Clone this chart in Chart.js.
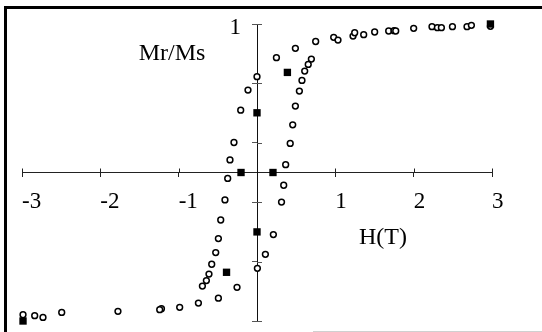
<!DOCTYPE html>
<html>
<head>
<meta charset="utf-8">
<script src="https://cdn.jsdelivr.net/npm/chart.js@4/dist/chart.umd.min.js"></script>
<style>
  html, body { margin: 0; padding: 0; background: #fff; }
  #wrap { width: 542px; height: 332px; position: relative; }
</style>
</head>
<body>
<div id="wrap"><canvas id="c" width="542" height="332"></canvas></div>
<script>
// Open circles: hysteresis loop M/Ms vs H (T)
const circleH = [0.248, 0.490, 0.749, 0.979, 1.034, 1.226, 1.247, 1.362, 1.502, 1.681, 1.749, 1.771, 2.000, 2.234, 2.303, 2.354, 2.495, 2.681, 2.737, 2.98,
  0.000, -0.115, -0.208, -0.294, -0.345, -0.374, -0.409, -0.463, -0.493, -0.527, -0.578, -0.613, -0.646, -0.697, -0.748, -0.987, -1.220, -1.242, -1.775, -2.493, -2.732, -2.838, -2.987,
  -0.493, -0.255, 0.005, 0.107, 0.209, 0.313, 0.341, 0.366, 0.424, 0.456, 0.490, 0.541, 0.574, 0.609, 0.654, 0.694];
const circleM = [0.773, 0.836, 0.882, 0.910, 0.892, 0.919, 0.941, 0.928, 0.946, 0.953, 0.955, 0.953, 0.971, 0.982, 0.975, 0.975, 0.982, 0.982, 0.991, 0.985,
  0.645, 0.555, 0.420, 0.202, 0.085, -0.040, -0.185, -0.320, -0.445, -0.539, -0.618, -0.684, -0.728, -0.765, -0.879, -0.908, -0.917, -0.924, -0.935, -0.942, -0.976, -0.964, -0.958,
  -0.846, -0.773, -0.645, -0.551, -0.418, -0.199, -0.086, 0.053, 0.196, 0.321, 0.447, 0.548, 0.620, 0.683, 0.728, 0.764];
// Filled squares: remanence Mr/Ms
const squareH = [2.98, 0.388, 0.0, -0.204, 0.204, 0.0, -0.389, -2.987];
const squareM = [1.0, 0.674, 0.402, 0.0, 0.0, -0.40, -0.672, -1.0];
// Tick labels
const xTickLabels = [-3, -2, -1, 1, 2, 3];
const yTickLabels = [1];
const yAxisText = 'Mr/Ms';
const xAxisText = 'H(T)';

const circlePts = circleH.map((h, i) => ({ x: h, y: circleM[i] }));
const squarePts = squareH.map((h, i) => ({ x: h, y: squareM[i] }));

const FONT = "'Liberation Serif', 'Times New Roman', serif";

const decor = {
  id: 'decor',
  beforeDraw(chart) {
    const ctx = chart.ctx;
    ctx.save();
    ctx.fillStyle = '#fff';
    ctx.fillRect(0, 0, chart.width, chart.height);
    ctx.fillStyle = '#000';
    ctx.fillRect(4, 6, 3, 332 - 6);
    ctx.fillRect(4, 6, 542 - 4, 3);
    ctx.fillStyle = '#d0d0d0';
    ctx.fillRect(313, 331, 542 - 313, 1);
    ctx.restore();
  },
  afterDraw(chart) {
    const ctx = chart.ctx;
    const xs = chart.scales.x, ys = chart.scales.y;
    const x0 = xs.getPixelForValue(0), y0 = ys.getPixelForValue(0);
    ctx.save();
    ctx.lineWidth = 1;
    // upper halves of x ticks
    ctx.strokeStyle = '#222';
    xs.ticks.forEach(t => {
      if (t.value === 0) return;
      const px = Math.round(xs.getPixelForValue(t.value)) + 0.5;
      ctx.beginPath(); ctx.moveTo(px, y0 - 4); ctx.lineTo(px, y0); ctx.stroke();
    });
    // right halves of y ticks
    ctx.strokeStyle = '#555';
    ys.ticks.forEach(t => {
      if (t.value === 0) return;
      const py = Math.round(ys.getPixelForValue(t.value)) + 0.5;
      ctx.beginPath(); ctx.moveTo(x0, py); ctx.lineTo(x0 + 5, py); ctx.stroke();
    });
    ctx.fillStyle = '#000';
    ctx.font = "24px " + FONT;
    ctx.textAlign = 'center';
    ctx.textBaseline = 'middle';
    ctx.fillText(yAxisText, 172, 54);
    ctx.fillText(xAxisText, 383, 238);
    ctx.restore();
  }
};

new Chart(document.getElementById('c'), {
  type: 'scatter',
  data: {
    datasets: [
      {
        label: 'M/Ms',
        data: circlePts,
        pointStyle: 'circle',
        radius: 2.9,
        borderWidth: 1.5,
        borderColor: '#000',
        backgroundColor: '#fff',
        order: 1,
        clip: false
      },
      {
        label: 'Mr/Ms',
        data: squarePts,
        pointStyle: 'rect',
        radius: 5.2,
        borderWidth: 0,
        borderColor: '#000',
        backgroundColor: '#000',
        order: 0,
        clip: false
      }
    ]
  },
  options: {
    responsive: false,
    animation: false,
    devicePixelRatio: 1,
    layout: { padding: { left: 22, right: 50, top: 24, bottom: 11 } },
    plugins: { legend: { display: false }, tooltip: { enabled: false } },
    elements: { point: { hoverRadius: 3 } },
    scales: {
      x: {
        type: 'linear',
        min: -3, max: 3,
        position: { y: 0 },
        afterFit(s) { s.paddingLeft = 0; s.paddingRight = 0; },
        border: { display: true, color: '#222', width: 1 },
        grid: { drawOnChartArea: false, drawTicks: true, tickLength: 4, color: '#222' },
        ticks: {
          stepSize: 1,
          align: 'start',
          padding: 12,
          color: '#000',
          font: { family: FONT, size: 23 },
          callback: v => xTickLabels.includes(v) ? String(v) : ''
        }
      },
      y: {
        type: 'linear',
        min: -1, max: 1,
        position: { x: 0 },
        afterFit(s) { s.paddingTop = 0; s.paddingBottom = 0; },
        border: { display: true, color: '#111', width: 1 },
        grid: { drawOnChartArea: false, drawTicks: true, tickLength: 5, color: '#555' },
        ticks: {
          stepSize: 0.2,
          padding: 26,
          labelOffset: 4,
          color: '#000',
          font: { family: FONT, size: 23 },
          // trailing spaces keep the label clear of the axis line (centre-positioned axis ignores padding)
          callback: v => yTickLabels.includes(Math.round(v * 10) / 10) ? String(Math.round(v)) + '\u2002\u2009' : ''
        }
      }
    }
  },
  plugins: [decor]
});
</script>
</body>
</html>
